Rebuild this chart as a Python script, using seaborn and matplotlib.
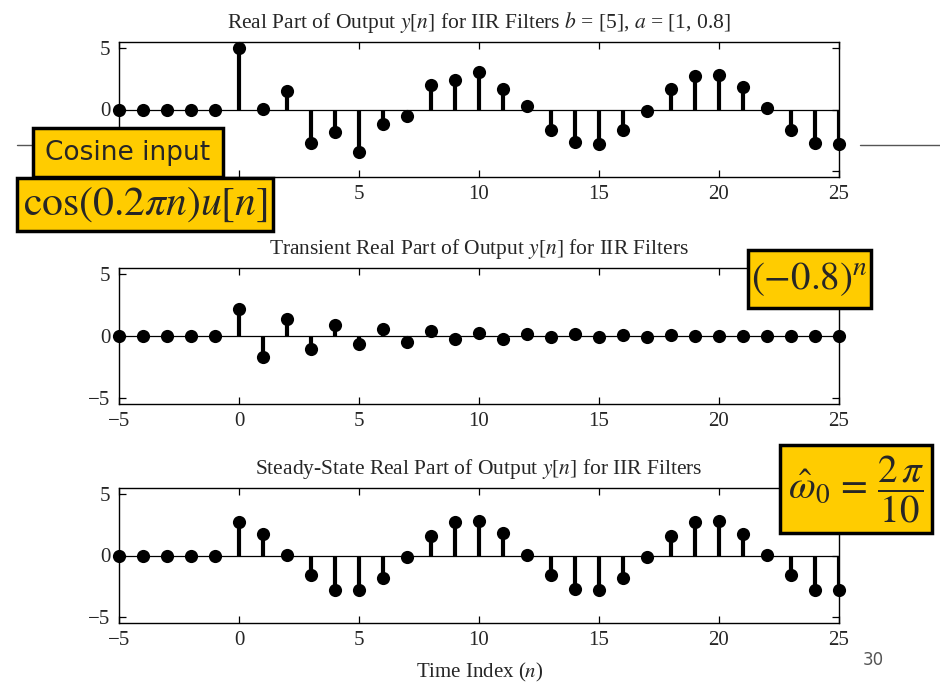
import seaborn as sns
import matplotlib.pyplot as plt
import pandas as pd
import numpy as np
from matplotlib.patches import Rectangle
from matplotlib.lines import Line2D

sns.set_theme(style='ticks')
plt.rcParams.update({'font.family': ['Liberation Serif', 'DejaVu Serif'],
                     'mathtext.fontset': 'stix',
                     'axes.edgecolor': 'black',
                     'xtick.direction': 'in', 'ytick.direction': 'in',
                     'xtick.top': True, 'ytick.right': True})

### data
n = list(range(-5, 26))
y_total = [0, 0, 0, 0, 0,
           5.0, 0.05, 1.53, -2.75, -1.81, -3.5, -1.22, -0.54, 2.03, 2.44,
           3.06, 1.63, 0.27, -1.71, -2.63, -2.85, -1.68, -0.14, 1.68, 2.7,
           2.84, 1.81, 0.14, -1.63, -2.71, -2.79]
y_transient = [0, 0, 0, 0, 0,
               2.19, -1.71, 1.41, -1.07, 0.93, -0.67, 0.59, -0.45, 0.43, -0.27,
               0.27, -0.21, 0.19, -0.11, 0.13, -0.08, 0.1, -0.05, 0.05, -0.04,
               0.03, -0.02, 0.02, -0.01, 0.01, 0.0]
y_steady = [0, 0, 0, 0, 0,
            2.76, 1.76, 0.05, -1.62, -2.79, -2.84, -1.81, -0.14, 1.62, 2.7,
            2.84, 1.81, 0.05, -1.62, -2.76, -2.79, -1.81, -0.14, 1.57, 2.74,
            2.79, 1.76, 0.05, -1.62, -2.79, -2.84]
titles = [r'Real Part of Output $y$[$n$] for IIR Filters $b$ = [5], $a$ = [1, 0.8]',
          r'Transient Real Part of Output $y$[$n$] for IIR Filters',
          r'Steady-State Real Part of Output $y$[$n$] for IIR Filters']
xticks = [-5, 0, 5, 10, 15, 20, 25]
yticks = [-5, 0, 5]

W, H = 940, 685
fig = plt.figure(figsize=(W/100, H/100), dpi=100)

# axes boxes in pixels: (top, bottom)
rows = [(42, 177), (268, 404), (488, 623)]
left_px, right_px = 119, 839

for i, ((top, bot), ys, title) in enumerate(zip(rows, [y_total, y_transient, y_steady], titles)):
    ax = fig.add_axes([left_px/W, 1-bot/H, (right_px-left_px)/W, (bot-top)/H])
    df = pd.DataFrame({'n': n, 'y': ys})
    ax.axhline(0, color='black', lw=0.9, zorder=1)
    ax.vlines(df['n'], 0, df['y'], color='black', lw=3.0, zorder=2)
    sns.scatterplot(data=df, x='n', y='y', ax=ax, color='black', s=90,
                    edgecolor='black', linewidth=0, zorder=3, clip_on=False)
    ax.set_xlim(-5, 25)
    ax.set_ylim(-5.5, 5.5)
    ax.set_xticks(xticks)
    ax.set_yticks(yticks)
    xlab = [str(t).replace('-', '\u2212') for t in xticks]
    ylab = [str(t).replace('-', '\u2212') for t in yticks]
    if i == 0:
        # these sit under the overlay boxes in the slide
        xlab[0] = xlab[1] = ''
        ylab[0] = ''
    ax.set_xticklabels(xlab)
    ax.set_yticklabels(ylab)
    ax.tick_params(labelsize=15, length=5, width=0.9, color='black', pad=6)
    for s in ax.spines.values():
        s.set_linewidth(1.0)
        s.set_color('black')
    ax.set_xlabel('')
    ax.set_ylabel('')
    ax.set_title(title, fontsize=15.5, pad=10)

fig.text(480/W, 1-672/H, r'Time Index ($n$)', ha='center', va='center', fontsize=15)
fig.text(873/W, 1-660/H, '30', ha='center', va='center', fontsize=12,
         color='#555555', family='DejaVu Sans')

# slide rule line behind
for x0, x1 in [(17, 40), (860, 940)]:
    fig.add_artist(Line2D([x0/W, x1/W], [1-145/H, 1-145/H], color='#555555', lw=1.0))

def box(x0, y0, x1, y1, text, size, **kw):
    fig.add_artist(Rectangle((x0/W, 1-y1/H), (x1-x0)/W, (y1-y0)/H,
                             transform=fig.transFigure, facecolor='#FFCC00',
                             edgecolor='black', lw=2.5, zorder=10))
    t = fig.text((x0+x1)/2/W, 1-(y0+y1)/2/H, text, ha='center', va='center',
                 fontsize=size, zorder=11, **kw)
    return t

box(33, 128, 223, 177, 'Cosine input', 19, family='DejaVu Sans')
box(17, 178, 273, 231, r'$\mathrm{cos}(0.2\pi n)u[n]$', 30)
box(748, 250, 871, 308, r'$(-0.8)^{n}$', 28)
box(780, 445, 932, 533, r'$\hat{\omega}_{0}\, = \,\dfrac{2\,\pi}{10}$', 28)

fig.savefig('out.png', dpi=100)
